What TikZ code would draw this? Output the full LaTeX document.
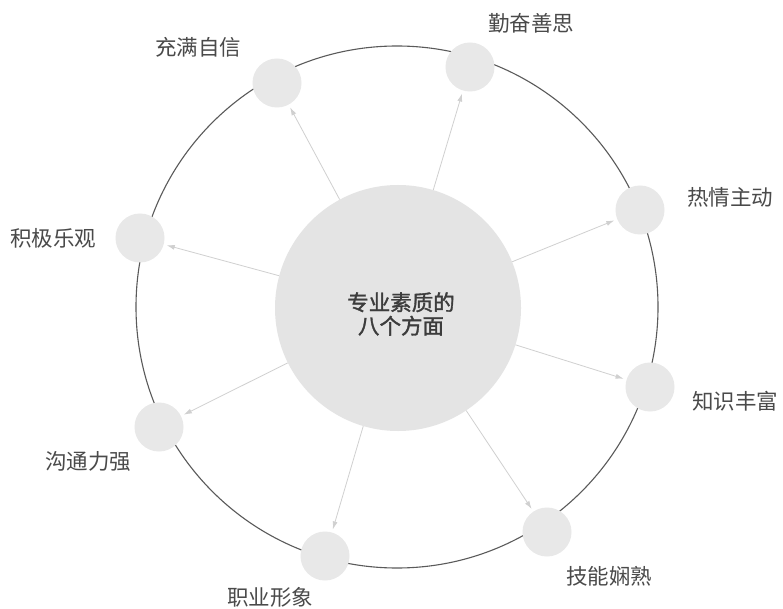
\documentclass[tikz,border=0pt]{standalone}
\usepackage{fontspec}
\setmainfont{Noto Sans CJK SC}
\newfontfamily\cjkbold[FakeBold=1.5]{Noto Sans CJK SC}
\usetikzlibrary{arrows.meta}
\definecolor{ringgray}{HTML}{5A5A5A}
\definecolor{bigfill}{HTML}{E4E4E4}
\definecolor{smallfill}{HTML}{E8E8E8}
\definecolor{arrowgray}{HTML}{D0D0D0}
\definecolor{labelgray}{HTML}{4A4A4A}
\definecolor{centertext}{HTML}{3C3C3C}
\tikzset{
  dot/.style={circle, fill=smallfill, draw=none, minimum size=49pt, inner sep=0pt},
  hub/.style={circle, fill=bigfill, draw=none, minimum size=246pt, inner sep=0pt},
  lbl/.style={text=labelgray, font=\fontsize{21.5}{25}\selectfont, inner sep=0pt},
  conn/.style={draw=arrowgray, line width=0.8pt, -{Latex[length=8pt,width=5pt]}, shorten >=3pt},
  ringline/.style={draw=ringgray, line width=1.1pt}
}
\begin{document}
\begin{tikzpicture}[x=1pt,y=-1pt]
\useasboundingbox[fill=white] (0,0) rectangle (783,609);
\draw[ringline] (397,307) circle (261pt);
\node[hub] (c) at (398,308) {};
\node[text=centertext, align=center, font=\cjkbold\fontsize{21.5}{23.5}\selectfont] (ct) at (401,314) {专业素质的\\八个方面};
\node[dot] (s1) at (277,83) {};
\node[dot] (s2) at (470,67) {};
\node[dot] (s3) at (640,210) {};
\node[dot] (s4) at (650,387) {};
\node[dot] (s5) at (547,532) {};
\node[dot] (s6) at (325,556) {};
\node[dot] (s7) at (159,427) {};
\node[dot] (s8) at (140,238) {};
\node[lbl] (l1) at (198,47) {充满自信};
\node[lbl] (l2) at (531,23) {勤奋善思};
\node[lbl] (l3) at (730,197) {热情主动};
\node[lbl] (l4) at (735,401) {知识丰富};
\node[lbl] (l5) at (609,576) {技能娴熟};
\node[lbl] (l6) at (270,597) {职业形象};
\node[lbl] (l7) at (88,461) {沟通力强};
\node[lbl] (l8) at (53,238) {积极乐观};
\foreach \s in {s1,s2,s3,s4,s5,s6,s7,s8}
  \draw[conn] (c) -- (\s);
\end{tikzpicture}
\end{document}
